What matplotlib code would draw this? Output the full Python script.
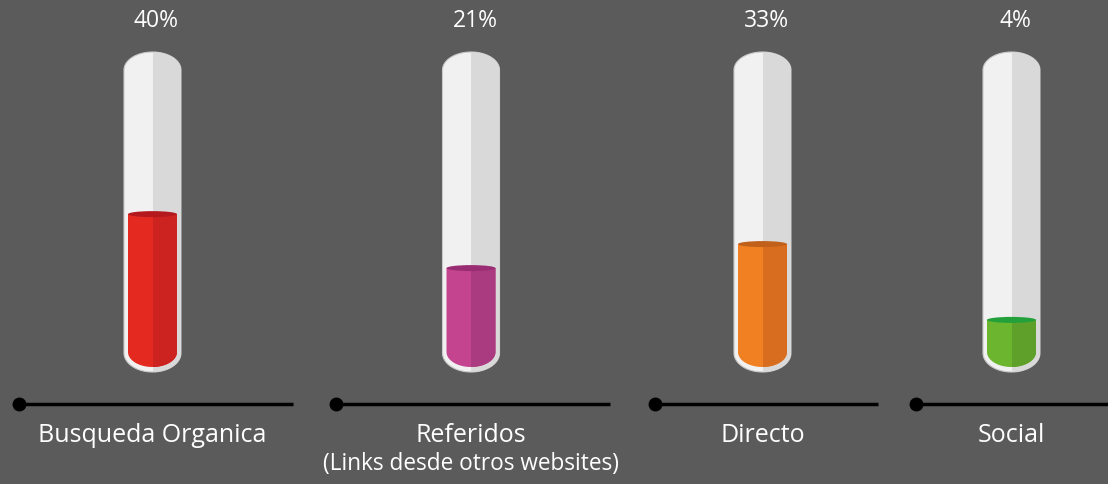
import numpy as np
import matplotlib.pyplot as plt
from matplotlib.patches import Polygon, Ellipse, Rectangle

# data
categories = ["Busqueda Organica", "Referidos", "Directo", "Social"]
subtitles = ["", "(Links desde otros websites)", "", ""]
percent_labels = ["40%", "21%", "33%", "4%"]
# fill level of each tube, in % of tube height (as drawn in the infographic)
fill_level = [49.0, 31.7, 39.4, 15.1]

colors_left = ["#e42a20", "#c4448f", "#f08022", "#6cb52e"]
colors_right = ["#cc2220", "#ab3b80", "#d96d1f", "#5fa02a"]
colors_top = ["#b41a1d", "#992c72", "#c0601b", "#22a03a"]

BG = "#5b5b5b"
W, H = 1108, 484
tube_x = [152.5, 471, 762.5, 1011.5]
line_spans = [(19, 293), (336, 610), (655, 878), (916, 1108)]
PX = 3.12  # pixels per level unit

plt.rcParams['font.family'] = ['Open Sans', 'DejaVu Sans']

fig = plt.figure(figsize=(W / 100, H / 100), dpi=100, facecolor=BG)
ax = fig.add_axes([0, 0, 1, 1])
ax.set_xlim(0, W)
ax.set_ylim(H, 0)
ax.set_facecolor(BG)
ax.axis("off")


def rounded_shape(w, yb, yt, rb, rt, flat_top=False):
    t = np.linspace(np.pi, 0, 40)
    if flat_top:
        top = np.array([[-w, yt], [w, yt]])
    else:
        top = np.column_stack([w * np.cos(t), (yt - rt) + rt * np.sin(t)])
    t2 = np.linspace(0, -np.pi, 40)
    bot = np.column_stack([w * np.cos(t2), (yb + rb) + rb * np.sin(t2)])
    return np.vstack([top, bot])


for i, cx in enumerate(tube_x):
    tax = fig.add_axes([(cx - 32) / W, 1 - 374 / H, 64 / W, (374 - 50) / H])
    tax.set_xlim(-32, 32)
    tax.set_ylim(-7 / PX, (367 - 50) / PX)
    tax.axis("off")
    tax.patch.set_alpha(0)

    # glass tube
    outer = Polygon(rounded_shape(28.5, -5 / PX, 315 / PX, 19 / PX, 18 / PX),
                    closed=True, fc="#f1f1f1", ec="#c9c9c9", lw=0.8)
    tax.add_patch(outer)
    shade = Rectangle((0, -10), 40, 200, fc="#d9d9d9", ec="none")
    tax.add_patch(shade)
    shade.set_clip_path(outer)

    # liquid
    lvl = fill_level[i]
    liquid = Polygon(rounded_shape(24.5, 0, lvl, 15 / PX, 0, flat_top=True),
                     closed=True, fc=colors_left[i], ec="none")
    tax.add_patch(liquid)
    dark = Rectangle((0, -10), 40, lvl + 10, fc=colors_right[i], ec="none")
    tax.add_patch(dark)
    dark.set_clip_path(liquid)
    tax.add_patch(Ellipse((0, lvl), 49, 6 / PX, fc=colors_top[i], ec="none"))

    # percentage
    ax.text(cx + 4, 21, percent_labels[i], color="white", fontsize=16.5,
            ha="center", va="center")

    # baseline with dot
    x0, x1 = line_spans[i]
    ax.plot([x0, x1], [404, 404], color="black", lw=2.5, solid_capstyle="butt")
    ax.plot(x0, 404, "o", color="black", ms=9)

    ax.text(cx, 436, categories[i], color="white", fontsize=18,
            ha="center", va="center")
    if subtitles[i]:
        ax.text(cx, 464, subtitles[i], color="white", fontsize=16.3,
                ha="center", va="center")

fig.savefig("out.png", dpi=100, facecolor=BG)
